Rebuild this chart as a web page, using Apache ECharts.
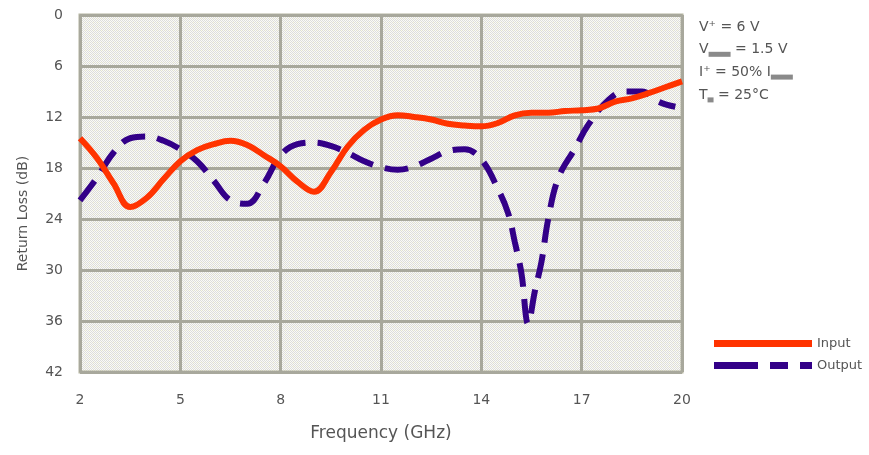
<!DOCTYPE html>
<html>
<head>
<meta charset="utf-8">
<script src="https://cdn.jsdelivr.net/npm/echarts@6/dist/echarts.min.js"></script>
<style>html,body{margin:0;padding:0;background:#fff}#c{width:869px;height:455px}</style>
</head>
<body>
<div id="c"></div>
<script>
// Frequency (GHz) values and return loss (dB)
const inputFreq = [2,2.5,3,3.5,4,4.5,5,5.5,6,6.5,7,7.5,8,8.5,9,9.5,10,10.5,11,11.5,12,12.5,13,13.5,14,14.5,15,15.5,16,16.5,17,17.5,18,18.5,19,19.5,20];
const inputLoss = [14.5,16.8,19.8,22.6,21.5,19.3,17.2,15.9,15.2,14.8,15.3,16.5,17.8,19.6,20.8,18.5,15.5,13.5,12.3,11.8,12.0,12.3,12.8,13.0,13.1,12.7,11.8,11.5,11.5,11.3,11.2,11.0,10.2,9.8,9.2,8.5,7.8];
const outputFreq = [2,2.5,3,3.5,4,4.5,5,5.5,6,6.5,7,7.5,8,8.5,9,9.5,10,10.5,11,11.5,12,12.5,13,13.5,14,14.5,14.8,15,15.2,15.4,15.6,15.8,16,16.3,16.8,17.2,17.8,18.3,18.8,19.3,19.8];
const outputLoss = [21.8,19.2,16.2,14.5,14.3,14.8,15.8,17.2,19.5,21.8,22.2,19.8,16.5,15.2,15.0,15.4,16.2,17.2,17.9,18.2,17.8,16.9,16.0,15.8,17.0,20.5,23.3,26.7,30.4,36.3,32.5,29.0,24.0,19.2,15.7,12.9,10.0,9.0,9.0,10.2,10.8];
const xTicks = [2,5,8,11,14,17,20];
const yTicks = [0,6,12,18,24,30,36,42];
const notes = ['V⁺ = 6 V','V{box|} = 1.5 V','I⁺ = 50% I{box|}','T{sbox|} = 25°C'];

const pat = document.createElement('canvas');
pat.width = 4; pat.height = 4;
const g = pat.getContext('2d');
g.fillStyle = '#fafaf6'; g.fillRect(0,0,4,4);
g.fillStyle = '#dddddb';
for (let i=0;i<4;i++) for (let j=0;j<4;j++) if ((i+j)%2===0) g.fillRect(i,j,1,1);
g.fillStyle = '#fdfde2'; g.fillRect(1,2,1,1);

const chart = echarts.init(document.getElementById('c'), null, {renderer:'canvas'});
const txt = '#555';
const font = 'DejaVu Sans';
chart.setOption({
  animation: false,
  backgroundColor: '#fff',
  grid: {left: 80, right: 187, top: 15, bottom: 83, show: true,
    backgroundColor: {image: pat, repeat: 'repeat'}, borderColor: '#b4b4a0', borderWidth: 3},
  xAxis: {type: 'value', min: 2, max: 20,
    name: 'Frequency (GHz)', nameLocation: 'middle', nameGap: 53,
    nameTextStyle: {color: txt, fontSize: 17, fontFamily: font},
    axisLine: {show: false}, axisTick: {show: false, customValues: xTicks},
    axisLabel: {customValues: xTicks, color: txt, fontSize: 14, fontFamily: font, margin: 21},
    splitLine: {show: true, lineStyle: {color: '#a8a89c', width: 3}}},
  yAxis: {type: 'value', min: 0, max: 42, interval: 6, inverse: true,
    name: 'Return Loss (dB)', nameLocation: 'middle', nameGap: 50,
    nameTextStyle: {color: txt, fontSize: 14, fontFamily: font, padding: [0, 40, 0, 0]},
    axisLine: {show: false}, axisTick: {show: false},
    axisLabel: {color: txt, fontSize: 14, fontFamily: font, margin: 17},
    splitLine: {show: true, lineStyle: {color: '#a8a89c', width: 3}}},
  legend: {orient: 'vertical', left: 709, top: 332, itemWidth: 98, itemHeight: 7, itemGap: 9,
    textStyle: {color: txt, fontSize: 13, fontFamily: font},
    data: [
      {name: 'Input', icon: 'path://M0,0H98V7H0Z'},
      {name: 'Output', icon: 'path://M0,0H44V7H0Z M56,0H74V7H56Z M86,0H98V7H86Z'}
    ]},
  graphic: notes.map((t,i)=>({type:'text', left: 699, top: 20 + i*22.8,
    style: {text: t, fill: txt, fontSize: 14, fontFamily: font,
      rich: {box: {backgroundColor: '#8a8a8a', width: 22, height: 5, verticalAlign: 'bottom'},
             sbox: {backgroundColor: '#8a8a8a', width: 6, height: 5, verticalAlign: 'bottom'}}}})),
  series: [
    {name: 'Input', type: 'line', smooth: 0.4, showSymbol: false, symbol: 'none',
      data: inputFreq.map((f,i)=>[f,inputLoss[i]]),
      lineStyle: {color: '#ff3300', width: 6}, itemStyle: {color: '#ff3300'}, z: 3},
    {name: 'Output', type: 'line', smooth: 0.4, showSymbol: false, symbol: 'none',
      data: outputFreq.map((f,i)=>[f,outputLoss[i]]),
      lineStyle: {color: '#330088', width: 6, type: [24, 12]}, itemStyle: {color: '#330088'}, z: 2}
  ]
});
</script>
</body>
</html>
